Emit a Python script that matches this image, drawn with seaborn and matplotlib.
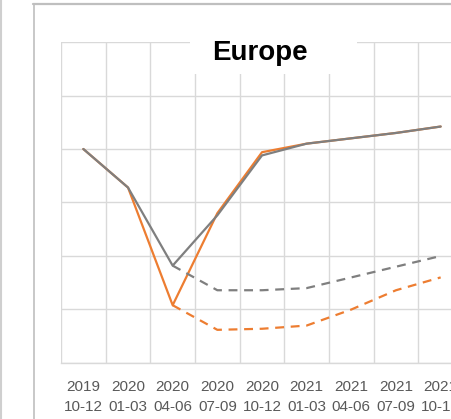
import numpy as np
import pandas as pd
import matplotlib
matplotlib.use("Agg")
import matplotlib.pyplot as plt
from matplotlib.patches import Rectangle
from matplotlib.lines import Line2D
import seaborn as sns

# ---- data ----
quarters = ["2019\n10-12", "2020\n01-03", "2020\n04-06", "2020\n07-09", "2020\n10-12",
            "2021\n01-03", "2021\n04-06", "2021\n07-09", "2021\n10-12"]
gray_solid = [100.0, 96.4, 89.1, 93.8, 99.4, 100.5, 101.0, 101.5, 102.1]
orange_solid = [100.0, 96.4, 85.4, 94.0, 99.7, 100.5, 101.0, 101.5, 102.1]
gray_dashed = [np.nan, np.nan, 89.1, 86.8, 86.8, 87.0, 88.0, 89.0, 90.0]
orange_dashed = [np.nan, np.nan, 85.4, 83.1, 83.2, 83.5, 85.0, 86.8, 88.0]

GRAY = "#7f7f7f"
ORANGE = "#ED7D31"
GRID = "#d9d9d9"

sns.set_theme(style="white")
plt.rcParams['font.family'] = ['Liberation Sans', 'DejaVu Sans']

W, H = 452, 419
fig = plt.figure(figsize=(W / 100, H / 100), dpi=100)
ax = fig.add_axes([61 / W, (H - 363) / H, 402 / W, 321 / H])

x = np.arange(len(quarters))
df = pd.DataFrame({"x": x, "gs": gray_solid, "os": orange_solid,
                   "gd": gray_dashed, "od": orange_dashed})

lw = 1.6
sns.lineplot(data=df, x="x", y="os", ax=ax, color=ORANGE, lw=lw, zorder=3)
sns.lineplot(data=df.dropna(), x="x", y="od", ax=ax, color=ORANGE, lw=lw,
             linestyle=(0, (4, 3)), zorder=3)
sns.lineplot(data=df.dropna(), x="x", y="gd", ax=ax, color=GRAY, lw=lw,
             linestyle=(0, (4, 3)), zorder=4)
sns.lineplot(data=df, x="x", y="gs", ax=ax, color=GRAY, lw=lw, zorder=4)

ax.set_xlim(-0.5, len(quarters) - 0.5)
ax.set_ylim(80, 110)
ax.set_xticks(x)
ax.set_xticklabels(quarters, color="#595959", fontsize=11, linespacing=1.5)
ax.set_xticks(np.arange(-0.5, len(quarters) + 0.5, 1), minor=True)
ax.set_yticks(np.arange(80, 111, 5))
ax.set_yticklabels([])
ax.tick_params(axis="both", which="both", length=0)
ax.tick_params(axis="x", pad=12.5)
ax.grid(False)
ax.grid(True, which="minor", axis="x", color=GRID, lw=1)
ax.grid(True, which="major", axis="y", color=GRID, lw=1)
ax.set_xlabel("")
ax.set_ylabel("")
for s in ["top", "right", "left"]:
    ax.spines[s].set_visible(False)
ax.spines["bottom"].set_color(GRID)
ax.spines["bottom"].set_linewidth(1)
if ax.get_legend():
    ax.get_legend().remove()

# frame lines
def px(xp, yp):
    return xp / W, 1 - yp / H

fig.add_artist(Line2D([1.5 / W, 1.5 / W], [0, 1], color="#cfcfcf", lw=1.5))
fig.add_artist(Line2D([33.5 / W, 33.5 / W], [0, 1 - 4 / H], color="#bfbfbf", lw=1.2))
fig.add_artist(Line2D([33 / W, 1], [1 - 4 / H, 1 - 4 / H], color="#bfbfbf", lw=1.6))

# title with white box
fig.add_artist(Rectangle(px(190, 74), 167 / W, 34 / H, transform=fig.transFigure,
                         facecolor="white", edgecolor="none", zorder=5))
fig.text(260 / W, 1 - 60 / H, "Europe", ha="center", va="baseline",
         fontsize=20, fontweight="bold", color="black", zorder=6)

fig.savefig("out.png", dpi=100)
